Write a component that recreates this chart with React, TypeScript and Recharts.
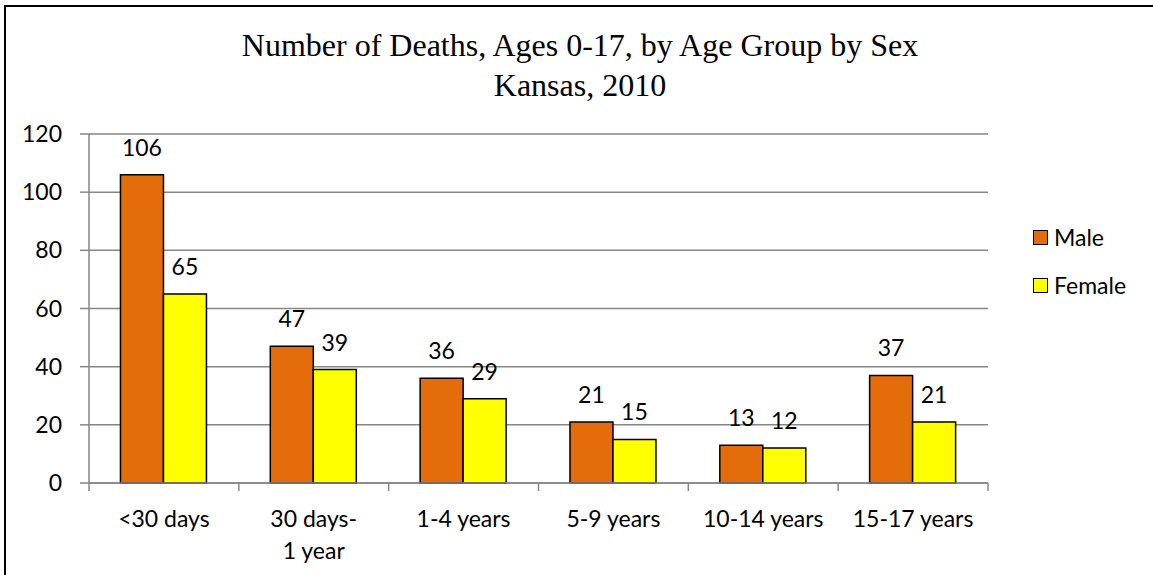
import React from "react";
import { BarChart, Bar, XAxis, YAxis, CartesianGrid, LabelList } from "recharts";

const categories = ["<30 days", "30 days-\n1 year", "1-4 years", "5-9 years", "10-14 years", "15-17 years"];
const maleValues = [106, 47, 36, 21, 13, 37];
const femaleValues = [65, 39, 29, 15, 12, 21];
const yTicks = [0, 20, 40, 60, 80, 100, 120];
const titleLines = ["Number of Deaths, Ages 0-17, by Age Group by Sex", "Kansas, 2010"];
const seriesNames = ["Male", "Female"];
const seriesColors = ["#E46C0A", "#FFFF00"];

const data = categories.map((c, i) => ({ category: c, male: maleValues[i], female: femaleValues[i] }));

const FONT = "Lato, 'Open Sans', sans-serif";
const FS = 23;
const AXIS_GRAY = "#868686";
const BAND = 899 / 6;

const XTick = (props: any) => {
  const { x, y, payload, index } = props;
  const lines = String(payload.value).split("\n");
  return (
    <g>
      <line x1={x - BAND / 2} x2={x - BAND / 2} y1={y} y2={y + 8} stroke={AXIS_GRAY} strokeWidth={1.5} />
      {index === categories.length - 1 && (
        <line x1={x + BAND / 2} x2={x + BAND / 2} y1={y} y2={y + 8} stroke={AXIS_GRAY} strokeWidth={1.5} />
      )}
      <text x={x} y={y + 44} textAnchor="middle" fontFamily={FONT} fontSize={FS} fill="#000">
        {lines.map((l, i) => (
          <tspan key={i} x={x} dy={i === 0 ? 0 : 32}>
            {l}
          </tspan>
        ))}
      </text>
    </g>
  );
};

export default function App() {
  return (
    <div style={{ position: "absolute", left: 0, top: 0, width: 1153, height: 575, overflow: "hidden", background: "#fff" }}>
      <div style={{ position: "absolute", left: 4, top: 5, width: 1300, height: 800, border: "2px solid #000" }} />
      <div
        style={{
          position: "absolute",
          left: 0,
          top: 0,
          width: 1160,
          textAlign: "center",
          fontFamily: "'Liberation Serif', 'Times New Roman', serif",
          fontSize: 32,
          color: "#000",
          lineHeight: "40px",
          paddingTop: 25,
        }}
      >
        {titleLines.map((t) => (
          <div key={t}>{t}</div>
        ))}
      </div>
      <div style={{ position: "absolute", left: 1033, top: 225, fontFamily: FONT, fontSize: FS, color: "#000" }}>
        {seriesNames.map((n, i) => (
          <div key={n} style={{ display: "flex", alignItems: "center", height: 24, marginBottom: 24 }}>
            <span
              style={{
                display: "inline-block",
                width: 13,
                height: 13,
                background: seriesColors[i],
                border: "1.5px solid #000",
                marginRight: 6,
              }}
            />
            <span>{n}</span>
          </div>
        ))}
      </div>
      <div style={{ position: "absolute", left: 0, top: 0 }}>
        <BarChart
          width={1153}
          height={575}
          data={data}
          margin={{ top: 134, right: 165, bottom: 0, left: 0 }}
          barCategoryGap="21%"
          barGap={0}
        >
          <CartesianGrid vertical={false} stroke={AXIS_GRAY} strokeWidth={1.5} />
          <XAxis
            dataKey="category"
            interval={0}
            stroke={AXIS_GRAY}
            strokeWidth={1.5}
            tickLine={false}
            tickSize={0}
            tickMargin={0}
            tick={<XTick />}
            height={92}
          />
          <YAxis
            domain={[0, 120]}
            ticks={yTicks}
            width={89}
            stroke={AXIS_GRAY}
            strokeWidth={1.5}
            tickSize={9}
            tickMargin={18}
            tick={{ fill: "#000", fontFamily: FONT, fontSize: FS }}
            interval={0}
          />
          <Bar dataKey="male" name="Male" fill={seriesColors[0]} stroke="#000" strokeWidth={1.5} isAnimationActive={false}>
            <LabelList dataKey="male" position="top" offset={19} fill="#000" fontFamily={FONT} fontSize={FS} />
          </Bar>
          <Bar dataKey="female" name="Female" fill={seriesColors[1]} stroke="#000" strokeWidth={1.5} isAnimationActive={false}>
            <LabelList dataKey="female" position="top" offset={19} fill="#000" fontFamily={FONT} fontSize={FS} />
          </Bar>
        </BarChart>
      </div>
    </div>
  );
}
